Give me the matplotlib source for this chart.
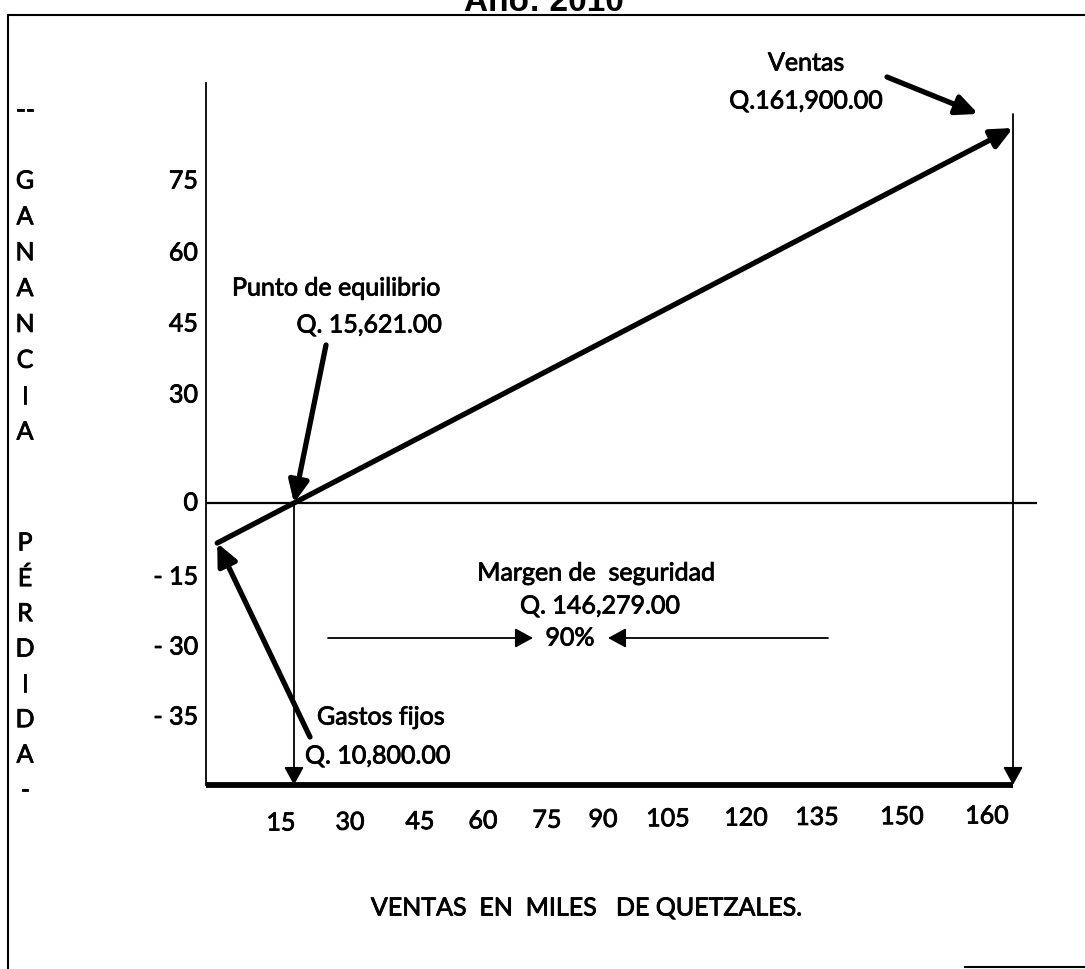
import numpy as np
import matplotlib.pyplot as plt
import matplotlib.patheffects as pe
from matplotlib.lines import Line2D

# datos en miles de quetzales
ventas = 161.9
gastos_fijos = 10.8
punto_equilibrio = 15.621
margen_seguridad = 146.279
margen_pct = 90

x_labels = ['15', '30', '45', '60', '75', '90', '105', '120', '135', '150', '160']
y_labels = ['75', '60', '45', '30', '0', '- 15', '- 30', '- 35']
palabra_arriba = 'GANANCIA'
palabra_abajo = 'PÉRDIDA'

# razon de margen de contribucion y ganancia al nivel de ventas
razon_mc = gastos_fijos / punto_equilibrio
ganancia = ventas * razon_mc - gastos_fijos

# ---- layout (pixeles de la imagen) ----
W, H = 1085, 969
FONT = 'Lato'
FS = 18


def fp(x, y):
    return (x / W, 1 - y / H)


plt.rcParams['font.family'] = [FONT, 'DejaVu Sans']
# trazo fino para que el texto se vea como el escaneado
plt.rcParams['path.effects'] = []
heavy = [pe.withStroke(linewidth=0.6, foreground='black')]


def txt(x, y, s, **kw):
    kw.setdefault('fontsize', FS)
    kw.setdefault('va', 'center')
    return fig.text(*fp(x, y), s, path_effects=heavy, **kw)


fig = plt.figure(figsize=(W / 100, H / 100), dpi=100)

# eje de datos: equilibrio en x=294px, ventas en x=1013px; 0 en y=503px, ganancia en y=128px
ax_l, ax_r, ax_t, ax_b = 206, 1037, 83, 785
ax = fig.add_axes([ax_l / W, 1 - ax_b / H, (ax_r - ax_l) / W, (ax_b - ax_t) / H])
kx = (1013 - 294) / (ventas - punto_equilibrio)
x0 = 294 - punto_equilibrio * kx
xmin = -(x0 - ax_l) / kx
ax.set_xlim(xmin, xmin + (ax_r - ax_l) / kx)
ky = (503 - 128) / ganancia
ymin = -(ax_b - 503) / ky
ax.set_ylim(ymin, (503 - ax_t) / ky)
ax.patch.set_alpha(0)
for s in ['top', 'right', 'bottom']:
    ax.spines[s].set_visible(False)
ax.spines['left'].set_linewidth(1.3)
ax.set_xticks([])
ax.set_yticks([])

thick = dict(arrowstyle='-|>,head_length=0.65,head_width=0.3', lw=3.8,
             color='black', mutation_scale=20, shrinkA=0, shrinkB=0)
thin = dict(arrowstyle='-|>,head_length=0.55,head_width=0.3', lw=1.3,
            color='black', mutation_scale=20, shrinkA=0, shrinkB=0)

# linea cero y base
ax.axhline(0, color='black', lw=1.6)
ax.plot([xmin, ventas], [ymin, ymin], color='black', lw=4.2,
        solid_capstyle='butt', clip_on=False)

# linea de ventas / ganancia
ax.annotate('', xy=(ventas, ganancia), xytext=(0, -gastos_fijos),
            arrowprops=thick)

# verticales al punto de equilibrio y a ventas
ax.annotate('', xy=(punto_equilibrio, ymin), xytext=(punto_equilibrio, 0),
            arrowprops=thin)
ax.annotate('', xy=(ventas, ymin), xytext=(ventas, (503 - 114) / ky),
            arrowprops=thin)

# flechas de las etiquetas
ax.annotate('', xy=(0, -gastos_fijos), xytext=fp(310, 737),
            textcoords='figure fraction', arrowprops=thick)
ax.annotate('', xy=(punto_equilibrio, 0), xytext=fp(326, 345),
            textcoords='figure fraction', arrowprops=thick)
ax.annotate('', xy=(ventas, ganancia), xytext=fp(887, 77),
            textcoords='figure fraction',
            arrowprops=dict(thick, shrinkB=27))

# margen de seguridad
ax.annotate('', xy=fp(533, 638), xytext=fp(328, 638), xycoords='figure fraction',
            textcoords='figure fraction', arrowprops=thin)
ax.annotate('', xy=fp(608, 638), xytext=fp(828, 638), xycoords='figure fraction',
            textcoords='figure fraction', arrowprops=thin)

# textos
txt(806, 63, 'Ventas', ha='center')
txt(806, 101, 'Q.{:,.2f}'.format(ventas * 1000), ha='center')
txt(232, 288, 'Punto de equilibrio', ha='left')
txt(442, 325, 'Q. {:,.2f}'.format(punto_equilibrio * 1000), ha='right')
txt(596, 573, 'Margen de  seguridad', ha='center')
txt(600, 606, 'Q. {:,.2f}'.format(margen_seguridad * 1000), ha='center')
txt(570, 638, '{}%'.format(margen_pct), ha='center')
txt(317, 717, 'Gastos fijos', ha='left')
txt(305, 756, 'Q. {:,.2f}'.format(gastos_fijos * 1000), ha='left')
txt(586, 908, 'VENTAS  EN  MILES   DE QUETZALES.', ha='center')

# etiquetas del eje x
x_px = [281, 350, 420, 483, 547, 603, 668, 746, 817, 902, 987]
x_py = np.linspace(823, 816, len(x_labels))
for lab, px, py in zip(x_labels, x_px, x_py):
    txt(px, py, lab, ha='center')

# etiquetas del eje y
y_py = [181, 253, 324, 395, 503, 577, 647, 717]
for lab, py in zip(y_labels, y_py):
    txt(198, py, lab, ha='right')

# palabra vertical
txt(25, 110, '--', ha='center')
for ch, py in zip(palabra_arriba, np.linspace(181, 432, len(palabra_arriba))):
    txt(25, py, ch, ha='center')
for ch, py in zip(palabra_abajo, np.linspace(543, 755, len(palabra_abajo))):
    txt(25, py, ch, ha='center')
txt(25, 790, '-', ha='center')

# titulo cortado y marco
fig.text(544 / W, 1 - 11 / H, 'Año: 2010', ha='center', va='baseline',
         fontsize=24, fontweight='bold', family='Liberation Sans')
fig.add_artist(Line2D([8 / W, 1], [1 - 15 / H] * 2, color='black', lw=1.5))
fig.add_artist(Line2D([8 / W] * 2, [1 - 15 / H, 0], color='black', lw=1.5))
fig.add_artist(Line2D([965 / W, 1], [1 - 967 / H] * 2, color='black', lw=1.5))

fig.savefig('out.png', dpi=100)
